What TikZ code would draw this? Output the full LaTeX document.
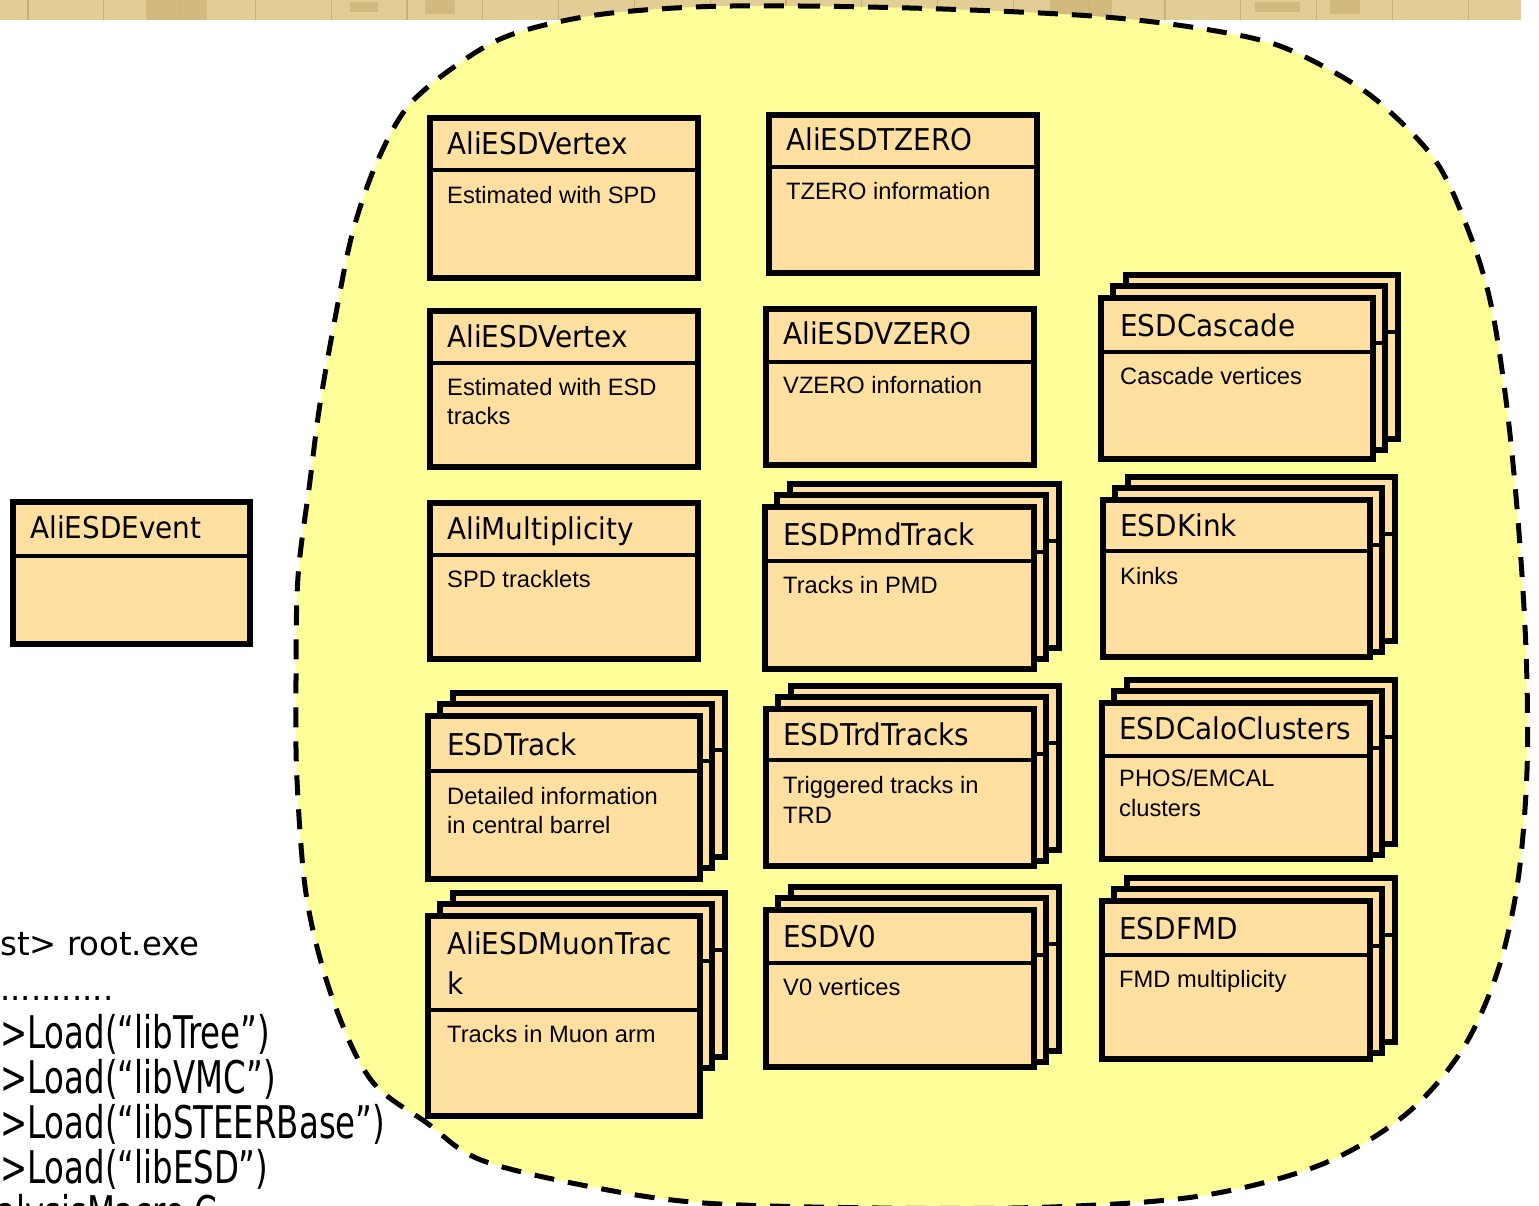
\documentclass[tikz,border=0pt]{standalone}
\usepackage{fontspec}
\setmainfont{Liberation Sans}
\newfontfamily\tah[FakeStretch=0.93]{DejaVu Sans}
\newfontfamily\tahw[FakeStretch=0.98]{DejaVu Sans}
\newfontfamily\tahc[FakeStretch=0.72]{DejaVu Sans}
\newfontfamily\ari{Liberation Sans}
\definecolor{bandc}{HTML}{E2CD94}
\definecolor{bandl}{HTML}{C9B073}
\definecolor{bandd}{HTML}{D2BA7E}
\definecolor{blobc}{HTML}{FFFF99}
\definecolor{boxc}{HTML}{FFE0A0}
\newcommand\ubox[6]{%
  \node[clsbox, anchor=north west, minimum width={(#4)-(#2)-6}, minimum height={(#5)-(#3)-6}] (#1) at ({(#2)+3},{(#3)+3}) {};
  \draw[hdr] (#1.west |- 0,{#6}) -- (#1.east |- 0,{#6});
}
\newcommand\stackbox[6]{%
  \ubox{#1c}{(#2)+25}{(#3)-23}{(#4)+25}{(#3)+147}{(#3)+37}
  \ubox{#1b}{(#2)+12}{(#3)-12}{(#4)+12}{(#3)+158}{(#3)+48}
  \ubox{#1}{#2}{#3}{#4}{#5}{#6}
}
\begin{document}
\begin{tikzpicture}[x=1pt,y=-1pt,
  clsbox/.style={draw=black, fill=boxc, line width=6.5pt, rectangle, inner sep=0pt, outer sep=0pt},
  hdr/.style={draw=black, line width=3.5pt},
  ttl/.style={anchor=base west, inner sep=0pt, font=\tah\fontsize{30}{36}\selectfont},
  bdy/.style={anchor=base west, inner sep=0pt, font=\ari\fontsize{23.7}{28}\selectfont},
  lta/.style={anchor=base west, inner sep=0pt, font=\tahw\fontsize{33}{40}\selectfont},
  ltb/.style={anchor=base west, inner sep=0pt, font=\tahc\fontsize{45}{54}\selectfont},
  blob/.style={draw=black, fill=blobc, line width=5pt, dash pattern=on 20pt off 14pt}]
\useasboundingbox (0,0) rectangle (1539,1205);
\fill[white] (0,0) rectangle (1539,1205);
% header band
\fill[bandc] (0,0) rectangle (1521,20);
\fill[bandd] (146,0) rectangle (207,20);
\fill[bandd] (350,2) rectangle (378,12);
\fill[bandd] (425,0) rectangle (455,14);
\fill[bandd] (1050,0) rectangle (1112,20);
\fill[bandd] (1255,2) rectangle (1300,12);
\fill[bandd] (1330,0) rectangle (1360,14);
\foreach \i in {0,...,19} \draw[bandl, line width=1.2pt] ({28+75.8*\i},0) -- ({28+75.8*\i},20);
% dashed region
\draw[blob] plot[smooth cycle, tension=0.55] coordinates {
 (695,7) (800,6) (943,9) (1092,16) (1191,27) (1271,43) (1330,70) (1380,103)
 (1435,160) (1467,227) (1490,300) (1506,400) (1518,520) (1526,650) (1527,770)
 (1518,880) (1498,970) (1462,1050) (1405,1115) (1320,1165) (1200,1196) (1050,1207)
 (880,1208) (704,1203) (592,1187) (481,1160) (427,1123) (371,1080) (333,1000)
 (307,900) (297,780) (296,680) (298,577) (310,481) (320,404) (337,308) (353,231)
 (377,162) (410,104) (467,58) (516,33) (596,15)};
% single boxes
\ubox{ev}{10}{499}{253}{647}{556}
\ubox{vtxa}{427}{115}{701}{281}{170}
\ubox{tzero}{766}{112}{1040}{276}{167}
\ubox{vtxb}{427}{308}{701}{470}{363}
\ubox{vzero}{763}{306}{1037}{468}{362}
\ubox{mult}{427}{500}{701}{662}{555}
% stacked boxes
\stackbox{trk}{425}{713}{703}{882}{771}
\stackbox{muon}{425}{913}{703}{1119}{1010}
\stackbox{pmd}{762}{504}{1037}{672}{561}
\stackbox{trd}{763}{706}{1037}{869}{760}
\stackbox{vnull}{763}{907}{1037}{1070}{963}
\stackbox{casc}{1098}{295}{1376}{462}{352}
\stackbox{kink}{1100}{497}{1373}{660}{551}
\stackbox{calo}{1099}{700}{1373}{862}{756}
\stackbox{fmd}{1099}{898}{1373}{1062}{955}
% texts
\node[ttl] (evt) at (30,538) {AliESDEvent};
\node[ttl] (vtxat) at (447,154) {AliESDVertex};
\node[bdy] (vtxab) at (447,203) {Estimated with SPD};
\node[ttl] (tzerot) at (786,150) {AliESDTZERO};
\node[bdy] (tzerob) at (786,199) {TZERO information};
\node[ttl] (vtxbt) at (447,347) {AliESDVertex};
\node[bdy] (vtxbb) at (447,395) {Estimated with ESD};
\node[bdy] (vtxbc) at (447,424) {tracks};
\node[ttl] (vzerot) at (783,344) {AliESDVZERO};
\node[bdy] (vzerob) at (783,393) {VZERO infornation};
\node[ttl] (multt) at (447,539) {AliMultiplicity};
\node[bdy] (multb) at (447,587) {SPD tracklets};
\node[ttl] (trkt) at (447,755) {ESDTrack};
\node[bdy] (trkb) at (447,804) {Detailed information};
\node[bdy] (trkc) at (447,833) {in central barrel};
\node[ttl] (muont) at (447,954) {AliESDMuonTrac};
\node[ttl] (muonu) at (447,994) {k};
\node[bdy] (muonb) at (447,1042) {Tracks in Muon arm};
\node[ttl] (pmdt) at (783,545) {ESDPmdTrack};
\node[bdy] (pmdb) at (783,593) {Tracks in PMD};
\node[ttl] (trdt) at (783,745) {ESDTrdTracks};
\node[bdy] (trdb) at (783,793) {Triggered tracks in};
\node[bdy] (trdc) at (783,823) {TRD};
\node[ttl] (vnullt) at (783,947) {ESDV0};
\node[bdy] (vnullb) at (783,995) {V0 vertices};
\node[ttl] (casct) at (1120,336) {ESDCascade};
\node[bdy] (cascb) at (1120,384) {Cascade vertices};
\node[ttl] (kinkt) at (1120,536) {ESDKink};
\node[bdy] (kinkb) at (1120,584) {Kinks};
\node[ttl] (calot) at (1119,739) {ESDCaloClusters};
\node[bdy] (calob) at (1119,786) {PHOS/EMCAL};
\node[bdy] (caloc) at (1119,816) {clusters};
\node[ttl] (fmdt) at (1119,939) {ESDFMD};
\node[bdy] (fmdb) at (1119,987) {FMD multiplicity};
% left text
\node[lta] (la) at (0,955) {st> root.exe};
\node[lta] (lb) at (0,1000) {...........};
\node[ltb] (lc) at (0,1048) {>Load(“libTree”)};
\node[ltb] (ld) at (0,1093) {>Load(“libVMC”)};
\node[ltb] (le) at (0,1138) {>Load(“libSTEERBase”)};
\node[ltb] (lf) at (0,1183) {>Load(“libESD”)};
\node[ltb] (lg) at (-4,1228) {alysisMacro.C};
\end{tikzpicture}
\end{document}
